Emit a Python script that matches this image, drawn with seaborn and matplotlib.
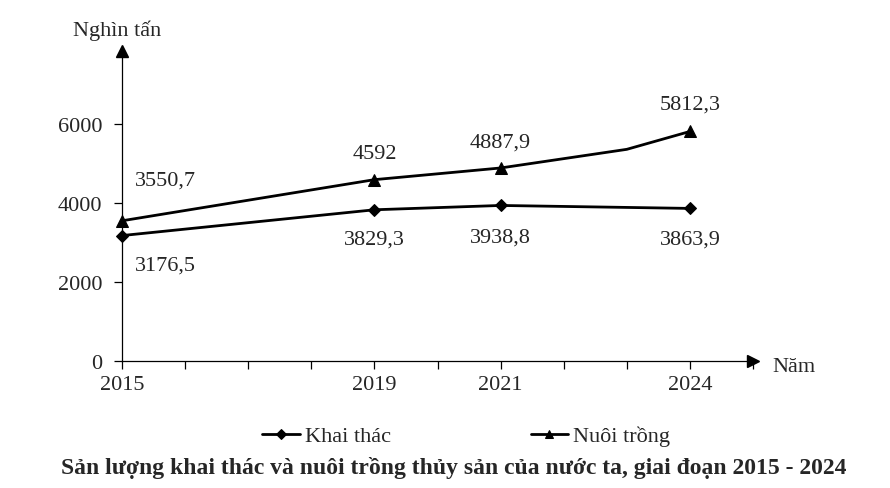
import numpy as np
import pandas as pd
import matplotlib.pyplot as plt
import seaborn as sns

# data
years_kt = [2015, 2019, 2021, 2024]
khai_thac = [3176.5, 3829.3, 3938.8, 3863.9]
years_nt = [2015, 2019, 2021, 2023, 2024]
nuoi_trong = [3550.7, 4592, 4887.9, 5360, 5812.3]   # 2023 is an unmarked bend
x_labels = {2015: '2015', 2019: '2019', 2021: '2021', 2024: '2024'}
y_ticks = [0, 2000, 4000, 6000]

df_kt = pd.DataFrame({'Năm': years_kt, 'Value': khai_thac})
df_nt = pd.DataFrame({'Năm': years_nt, 'Value': nuoi_trong})

sns.set_style('white')
plt.rcParams['font.family'] = ['Liberation Serif', 'DejaVu Serif']
fs = 16

fig = plt.figure(figsize=(8.9, 4.89), dpi=100)
ax = fig.add_axes([122 / 890, 1 - 362 / 489, 631 / 890, 310 / 489])

sns.lineplot(data=df_kt, x='Năm', y='Value', ax=ax, color='black', lw=2,
             marker='D', ms=6, mec='black', label='Khai thác', clip_on=False)
sns.lineplot(data=df_nt, x='Năm', y='Value', ax=ax, color='black', lw=2,
             marker='^', ms=8, mec='black', markevery=[0, 1, 2, 4],
             label='Nuôi trồng', clip_on=False)

ax.set_xlim(2015, 2025)
ax.set_ylim(0, 7850)
ax.set_xticks(range(2015, 2026))
ax.set_xticklabels([x_labels.get(y, '') for y in range(2015, 2026)], fontsize=fs)
ax.set_yticks(y_ticks)
ax.set_yticklabels([str(v) for v in y_ticks], fontsize=fs)
ax.tick_params(axis='x', bottom=True, direction='out', length=6, width=0.9, pad=4, color='black')
ax.tick_params(axis='y', left=True, direction='out', length=6, width=0.9, pad=8, color='black')
ax.set_xlabel('')
ax.set_ylabel('')
sns.despine(ax=ax)
for s in ['left', 'bottom']:
    ax.spines[s].set_color('black')
    ax.spines[s].set_linewidth(0.9)

# axis arrows
ax.plot(1, 0, '>k', ms=8, transform=ax.get_yaxis_transform(), clip_on=False)
ax.plot(2015, 1, '^k', ms=8, transform=ax.get_xaxis_transform(), clip_on=False)

# value labels
def fmt(v):
    return f'{v:g}'.replace('.', ',')

kt_off = [(31, -21), (0, -21), (0, -23), (0, -22)]
for x, v, off in zip(years_kt, khai_thac, kt_off):
    ax.annotate(fmt(v), (x, v), xytext=off, textcoords='offset points',
                ha='center', va='center', fontsize=fs)
nt_off = [(31, 29), (0, 19), (0, 19), None, (0, 20)]
for x, v, off in zip(years_nt, nuoi_trong, nt_off):
    if off is None:
        continue
    ax.annotate(fmt(v), (x, v), xytext=off, textcoords='offset points',
                ha='center', va='center', fontsize=fs)

fig.text(117 / 890, 1 - 31 / 489, 'Nghìn tấn', ha='center', va='center', fontsize=fs)
fig.text(772 / 890, 1 - 368 / 489, 'Năm', ha='left', va='center', fontsize=fs)

ax.legend_.remove()
handles, labels = ax.get_legend_handles_labels()
fig.legend(handles, labels, loc='center', bbox_to_anchor=(466 / 890, 1 - 437 / 489),
           ncol=2, frameon=False, fontsize=fs, handlelength=1.7, handletextpad=0.2,
           columnspacing=6.3, markerscale=0.8)

fig.text(454 / 890, 1 - 468 / 489,
         'Sản lượng khai thác và nuôi trồng thủy sản của nước ta, giai đoạn 2015 - 2024',
         ha='center', va='center', fontsize=17, fontweight='bold')

fig.savefig('out.png', dpi=100)
